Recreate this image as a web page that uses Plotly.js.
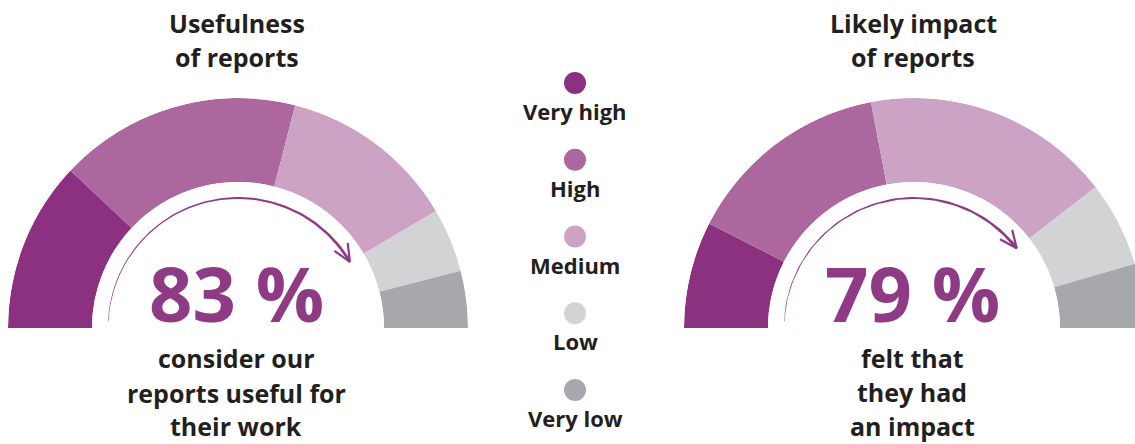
<!DOCTYPE html>
<html>
<head>
<meta charset="utf-8">
<script src="https://cdn.plot.ly/plotly-3.0.1.min.js"></script>
<style>html,body{margin:0;padding:0;overflow:hidden;background:#ffffff}</style>
</head>
<body>
<div id="chart" style="width:1145px;height:444px"></div>
<script>
// ---------- data ----------
const categories = ['Very high', 'High', 'Medium', 'Low', 'Very low'];
const colors = ['#8C3180', '#AC689E', '#CDA3C5', '#D2D3D5', '#A7A8AC'];
const usefulness = [24, 34, 25, 9, 8];
const impact = [15, 29, 35, 12, 9];
const usefulnessTitle = ['Usefulness', 'of reports'];
const impactTitle = ['Likely impact', 'of reports'];
const usefulnessCaption = ['consider our', 'reports useful for', 'their work'];
const impactCaption = ['felt that', 'they had', 'an impact'];

// ---------- layout constants ----------
const W = 1145, H = 444;
const R = 230, HOLE = 146;
const DARK = '#231F20', PURPLE = '#8E3A84';
const FONT = 'Open Sans, sans-serif';

const gauges = [
  {values: usefulness, title: usefulnessTitle, caption: usefulnessCaption, cx: 238, cy: 328,
   titleY: [23, 57], capY: [358, 392.5, 426], polar: 'polar'},
  {values: impact, title: impactTitle, caption: impactCaption, cx: 914, cy: 328,
   titleY: [23, 57], capY: [358, 392, 425.5], polar: 'polar2'}
];

const traces = [];
const annotations = [];
const layout = {
  width: W, height: H,
  margin: {l: 0, r: 0, t: 0, b: 0},
  paper_bgcolor: '#ffffff', plot_bgcolor: 'rgba(0,0,0,0)',
  showlegend: false,
  xaxis: {range: [0, W], visible: false, fixedrange: true},
  yaxis: {range: [H, 0], visible: false, fixedrange: true},
  annotations: annotations
};

function txt(x, y, text, size, color) {
  annotations.push({x: x, y: y, xref: 'x', yref: 'y', text: text, showarrow: false,
    xanchor: 'center', yanchor: 'middle',
    font: {family: FONT, size: size, color: color, weight: 700}});
}

gauges.forEach(g => {
  // cumulative positions in degrees (0..180 over 100 %)
  let cum = 0;
  const theta = [], width = [];
  g.values.forEach(v => { theta.push((cum + v / 2) * 1.8); width.push(v * 1.8); cum += v; });
  traces.push({
    type: 'barpolar', subplot: g.polar,
    r: g.values.map(() => 1), theta: theta, width: width,
    marker: {color: colors, line: {width: 0}},
    hoverinfo: 'skip'
  });
  layout[g.polar] = {
    domain: {x: [(g.cx - R) / W, (g.cx + R) / W], y: [(H - g.cy) / H, (H - g.cy + R) / H]},
    sector: [0, 180], hole: HOLE / R, bargap: 0,
    bgcolor: 'rgba(0,0,0,0)',
    radialaxis: {visible: false, range: [0, 1]},
    angularaxis: {visible: false, rotation: 180, direction: 'clockwise', thetaunit: 'degrees'}
  };

  // share = very high + high + medium
  const share = g.values[0] + g.values[1] + g.values[2];

  // tapered arrow along the inner side
  const r = 130, a0 = 177 * Math.PI / 180, a1 = (180 - share * 1.8) * Math.PI / 180;
  const n = 80, xs = [], ys = [];
  for (let i = 0; i <= n; i++) {
    const t = i / n, a = a0 + (a1 - a0) * t, w = 0.25 + 1.15 * t;
    xs.push(g.cx + (r + w) * Math.cos(a)); ys.push(g.cy - (r + w) * Math.sin(a));
  }
  for (let i = n; i >= 0; i--) {
    const t = i / n, a = a0 + (a1 - a0) * t, w = 0.25 + 1.15 * t;
    xs.push(g.cx + (r - w) * Math.cos(a)); ys.push(g.cy - (r - w) * Math.sin(a));
  }
  traces.push({type: 'scatter', x: xs, y: ys, mode: 'lines', fill: 'toself',
    fillcolor: PURPLE, line: {width: 0, color: PURPLE}, hoverinfo: 'skip'});
  const tx = g.cx + r * Math.cos(a1), ty = g.cy - r * Math.sin(a1);
  const bx = -Math.sin(a1), by = -Math.cos(a1); // backwards direction in screen coords
  const L = 19, sp = 24 * Math.PI / 180;
  const w1 = [bx * Math.cos(sp) - by * Math.sin(sp), bx * Math.sin(sp) + by * Math.cos(sp)];
  const w2 = [bx * Math.cos(-sp) - by * Math.sin(-sp), bx * Math.sin(-sp) + by * Math.cos(-sp)];
  traces.push({type: 'scatter', mode: 'lines', hoverinfo: 'skip',
    x: [tx + w1[0] * L, tx, tx + w2[0] * L], y: [ty + w1[1] * L, ty, ty + w2[1] * L],
    line: {color: PURPLE, width: 2.2}});

  g.title.forEach((t, i) => txt(g.cx - 1, g.titleY[i], t, 25, DARK));
  txt(g.cx - 2, 292, share + ' %', 76, PURPLE);
  g.caption.forEach((t, i) => txt(g.cx - 2, g.capY[i], t, 25, DARK));
});

// central legend
const legX = 575, legY0 = 83, legStep = 76.75;
const legY = categories.map((c, i) => legY0 + i * legStep);
traces.push({type: 'scatter', mode: 'markers', hoverinfo: 'skip',
  x: categories.map(() => legX), y: legY,
  marker: {size: 22, color: colors, line: {width: 0}}});
categories.forEach((c, i) => txt(legX, legY[i] + 28, c, 22, DARK));

Plotly.newPlot('chart', traces, layout, {staticPlot: true, displayModeBar: false});
</script>
</body>
</html>
